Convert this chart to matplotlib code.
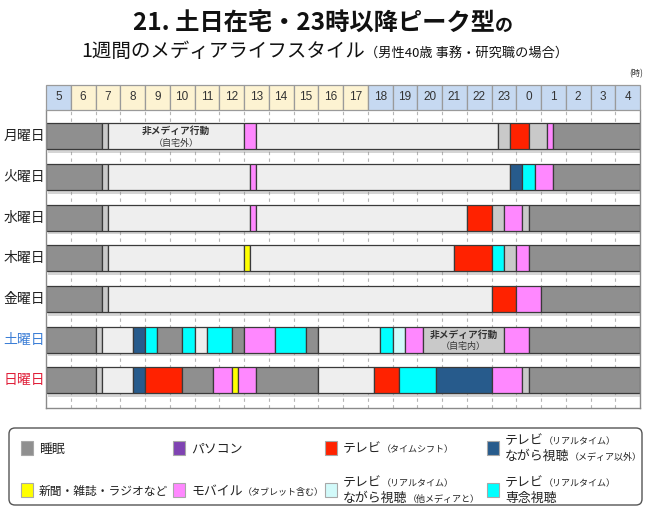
import matplotlib
matplotlib.use("Agg")
import matplotlib.pyplot as plt
from matplotlib.patches import Rectangle, FancyBboxPatch
import matplotlib.patheffects as pe

plt.rcParams['font.family'] = ['Noto Sans CJK JP', 'DejaVu Sans']

# ---------------- data ----------------
days = ['月曜日', '火曜日', '水曜日', '木曜日', '金曜日', '土曜日', '日曜日']
day_colors = ['#222222', '#222222', '#222222', '#222222', '#222222', '#3d7fd6', '#e0203a']
hour_labels = [5, 6, 7, 8, 9, 10, 11, 12, 13, 14, 15, 16, 17, 18, 19, 20, 21, 22, 23, 0, 1, 2, 3, 4]
hour_cell_kind = ['b', 'y', 'y', 'y', 'y', 'y', 'y', 'y', 'y', 'y', 'y', 'y', 'y',
                  'b', 'b', 'b', 'b', 'b', 'b', 'b', 'b', 'b', 'b', 'b']

# segment boundaries (hours, 5 = 5:00, 29 = 翌4:59) and categories
mon_bounds = [5, 7.25, 7.5, 13.0, 13.5, 23.25, 23.75, 24.5, 25.25, 25.5, 29]
mon_cats = ['sleep', 'home', 'out', 'mobile', 'out', 'home', 'tvshift', 'home', 'mobile', 'sleep']
tue_bounds = [5, 7.25, 7.5, 13.25, 13.5, 23.75, 24.25, 24.75, 25.5, 29]
tue_cats = ['sleep', 'home', 'out', 'mobile', 'out', 'tvnm', 'tvfocus', 'mobile', 'sleep']
wed_bounds = [5, 7.25, 7.5, 13.25, 13.5, 22.0, 23.0, 23.5, 24.25, 24.5, 29]
wed_cats = ['sleep', 'home', 'out', 'mobile', 'out', 'tvshift', 'home', 'mobile', 'home', 'sleep']
thu_bounds = [5, 7.25, 7.5, 13.0, 13.25, 21.5, 23.0, 23.5, 24.0, 24.5, 29]
thu_cats = ['sleep', 'home', 'out', 'paper', 'out', 'tvshift', 'tvfocus', 'home', 'mobile', 'sleep']
fri_bounds = [5, 7.25, 7.5, 23.0, 24.0, 25.0, 29]
fri_cats = ['sleep', 'home', 'out', 'tvshift', 'mobile', 'sleep']
sat_bounds = [5, 7.0, 7.25, 8.5, 9.0, 9.5, 10.5, 11.0, 11.5, 12.5, 13.0, 14.25, 15.5, 16.0,
              18.5, 19.0, 19.5, 20.25, 23.5, 24.5, 29]
sat_cats = ['sleep', 'home', 'out', 'tvnm', 'tvfocus', 'sleep', 'tvfocus', 'out', 'tvfocus', 'sleep',
            'mobile', 'tvfocus', 'sleep', 'out', 'tvfocus', 'tvwm', 'mobile', 'home', 'mobile', 'sleep']
sun_bounds = [5, 7.0, 7.25, 8.5, 9.0, 10.5, 11.75, 12.5, 12.75, 13.5, 16.0, 18.25, 19.25, 20.75,
              23.0, 24.25, 24.5, 29]
sun_cats = ['sleep', 'home', 'out', 'tvnm', 'tvshift', 'sleep', 'mobile', 'paper', 'mobile', 'sleep',
            'out', 'tvshift', 'tvfocus', 'tvnm', 'mobile', 'home', 'sleep']

all_bounds = [mon_bounds, tue_bounds, wed_bounds, thu_bounds, fri_bounds, sat_bounds, sun_bounds]
all_cats = [mon_cats, tue_cats, wed_cats, thu_cats, fri_cats, sat_cats, sun_cats]

# annotations inside bars: (day index, segment index, line1, line2)
notes = [(0, 2, '非メディア行動', '（自宅外）'), (5, 17, '非メディア行動', '（自宅内）')]

colors = {
    'sleep': '#8f8f8f', 'pc': '#7f43b2', 'tvshift': '#ff2200', 'tvnm': '#275b8c',
    'paper': '#ffff00', 'mobile': '#ff88ff', 'tvwm': '#d2fafa', 'tvfocus': '#00ffff',
    'home': '#c9c9c9', 'out': '#eeeeee',
}

legend_keys = ['sleep', 'pc', 'tvshift', 'tvnm', 'paper', 'mobile', 'tvwm', 'tvfocus']
legend_texts = [
    [[('睡眠', 9.3)]],
    [[('パソコン', 9.3)]],
    [[('テレビ', 9.3), ('（タイムシフト）', 6.5)]],
    [[('テレビ', 9.3), ('（リアルタイム）', 6.5)], [('ながら視聴', 9.3), ('（メディア以外）', 6.5)]],
    [[('新聞・雑誌・ラジオなど', 8.5)]],
    [[('モバイル', 9.3), ('（タブレット含む）', 6.5)]],
    [[('テレビ', 9.3), ('（リアルタイム）', 6.5)], [('ながら視聴', 9.3), ('（他メディアと）', 6.5)]],
    [[('テレビ', 9.3), ('（リアルタイム）', 6.5)], [('専念視聴', 9.3)]],
]

# ---------------- figure ----------------
W, H = 650, 513
fig = plt.figure(figsize=(W / 100, H / 100), dpi=100)
fig.patch.set_facecolor('white')

def fx(px):
    return px / W

def fy(py):
    return 1 - py / H

# main plot axes
L, R, T, B = 46, 640, 110, 408
ax = fig.add_axes([fx(L), fy(B), fx(R - L), (B - T) / H])
ax.set_xlim(5, 29)
ax.set_ylim(6.68, -0.65)
ax.set_xticks([])
ax.set_yticks([])
for s in ['left', 'bottom', 'right']:
    ax.spines[s].set_color('#8a8a8a')
    ax.spines[s].set_linewidth(1.0)
ax.spines['top'].set_visible(False)

for h in range(6, 29):
    ax.axvline(h, color='#b5b5b5', lw=0.8, ls=(0, (3, 3)), zorder=0)

bar_h = 0.64
for i, (bnds, cats) in enumerate(zip(all_bounds, all_cats)):
    sh = Rectangle((bnds[0], i - bar_h / 2), bnds[-1] - bnds[0], bar_h,
                   facecolor='white', edgecolor='none', zorder=1)
    sh.set_path_effects([pe.SimplePatchShadow(offset=(1.5, -2.5), shadow_rgbFace='#888888', alpha=0.35),
                         pe.Normal()])
    ax.add_patch(sh)
    for j, c in enumerate(cats):
        ax.add_patch(Rectangle((bnds[j], i - bar_h / 2), bnds[j + 1] - bnds[j], bar_h,
                               facecolor=colors[c], edgecolor='#3a3a3a', lw=0.9, zorder=2))
    ax.text(-22 / (R - L), i, days[i], transform=ax.get_yaxis_transform(), ha='center', va='center',
            fontsize=10, color=day_colors[i])

for (di, si, t1, t2) in notes:
    x0, x1 = all_bounds[di][si], all_bounds[di][si + 1]
    cx = (x0 + x1) / 2
    ax.text(cx, di - 0.13, t1, ha='center', va='center', fontsize=7, fontweight='bold',
            color='#333333', zorder=3)
    ax.text(cx, di + 0.17, t2, ha='center', va='center', fontsize=6.5, color='#333333', zorder=3)

# header axes
hax = fig.add_axes([fx(L), fy(110), fx(R - L), 25 / H])
hax.set_xlim(5, 29)
hax.set_ylim(0, 1)
hax.axis('off')
for k, (lab, kind) in enumerate(zip(hour_labels, hour_cell_kind)):
    col = '#c6d9f1' if kind == 'b' else '#fdf3d2'
    hax.add_patch(Rectangle((5 + k, 0), 1, 1, facecolor=col, edgecolor='#9a9a9a', lw=0.9,
                            clip_on=False))
    hax.text(5 + k + 0.5, 0.5, str(lab), ha='center', va='center', fontsize=8.5,
             color='#333333', family=['Liberation Sans', 'DejaVu Sans'])

# overlay axes in pixel coordinates
ov = fig.add_axes([0, 0, 1, 1], zorder=-1)
ov.set_xlim(0, W)
ov.set_ylim(H, 0)
ov.axis('off')

renderer = fig.canvas.get_renderer()

def measure(pieces, weight='normal'):
    total = 0
    for s, size in pieces:
        t = ov.text(0, 0, s, fontsize=size, fontweight=weight)
        total += t.get_window_extent(renderer=renderer).width
        t.remove()
    return total

def rich(x, y, pieces, weight='normal', color='#222222'):
    for s, size in pieces:
        t = ov.text(x, y, s, fontsize=size, fontweight=weight, va='baseline', ha='left', color=color)
        x += t.get_window_extent(renderer=renderer).width

# titles
line1 = [('21. 土日在宅・23時以降ピーク型', 17.5), ('の', 13)]
line2 = [('1週間のメディアライフスタイル', 14), ('（男性40歳 事務・研究職の場合）', 9.5)]
w1 = measure(line1, 'bold')
rich(323 - w1 / 2, 31, line1, weight='bold', color='#111111')
w2 = measure(line2)
rich(325 - w2 / 2, 57, line2, color='#111111')
ov.text(636, 74, '(時)', fontsize=6, ha='center', va='center', color='#333333')

# legend box
ov.add_patch(FancyBboxPatch((9, 428), 633, 77, boxstyle='round,pad=0,rounding_size=6',
                            facecolor='white', edgecolor='#555555', lw=1.0))
col_x = [21, 173, 325, 487]
row_y = [448, 490]
for n, key in enumerate(legend_keys):
    cx = col_x[n % 4]
    cy = row_y[n // 4]
    ov.add_patch(Rectangle((cx, cy - 7), 12, 14, facecolor=colors[key], edgecolor='#a8a8a8', lw=0.8))
    lines = legend_texts[n]
    if len(lines) == 1:
        rich(cx + 18, cy + 4.5, lines[0])
    else:
        rich(cx + 18, cy - 4, lines[0])
        rich(cx + 18, cy + 12, lines[1])

fig.savefig('out.png', dpi=100, facecolor='white')
